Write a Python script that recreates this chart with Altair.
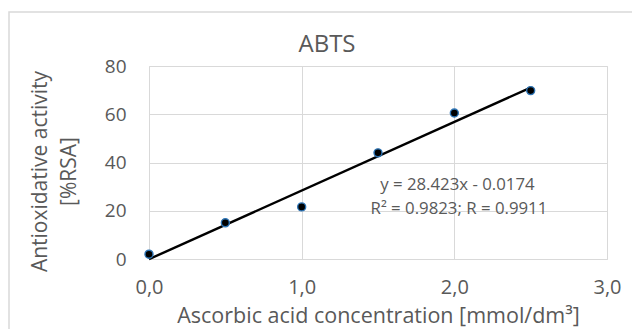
import altair as alt
import pandas as pd

# data
conc = [0.0, 0.5, 1.0, 1.5, 2.0, 2.5]
activity = [2.0, 15.0, 21.6, 44.0, 60.5, 69.8]
x_ticks = [0, 1, 2, 3]
y_ticks = [0, 20, 40, 60, 80]
title_text = "ABTS"
eq_line1 = "y = 28.423x - 0.0174"
eq_line2 = "R² = 0.9823; R = 0.9911"

df = pd.DataFrame({"x": conc, "y": activity})
one = alt.Data(values=[{"k": 1}])

FONT = "Open Sans"
GRAY = "#595959"
GRID = "#d9d9d9"

xs = alt.Scale(domain=[0, 3], nice=False, zero=False)
ys = alt.Scale(domain=[0, 80], nice=False)

x_enc = alt.X("x:Q", scale=xs, axis=alt.Axis(
    values=x_ticks, title="Ascorbic acid concentration [mmol/dm³]",
    labelExpr="replace(format(datum.value, '.1f'), '.', ',')",
    grid=True, gridColor=GRID, gridWidth=1, domain=False, ticks=False, tickSize=0,
    labelFlush=False,
    labelFont=FONT, labelFontSize=20, labelFontWeight="normal", labelColor=GRAY,
    labelPadding=18,
    titleFont=FONT, titleFontSize=21.5, titleFontWeight="normal", titleColor=GRAY,
    titleBaseline="alphabetic", titleY=63,
))
y_enc = alt.Y("y:Q", scale=ys, axis=alt.Axis(
    values=y_ticks, title=["Antioxidative activity", "[%RSA]"],
    grid=True, gridColor=GRID, gridWidth=1, domain=False, ticks=False, tickSize=0,
    labelFlush=False,
    labelFont=FONT, labelFontSize=19, labelFontWeight="normal", labelColor=GRAY,
    labelPadding=23,
    titleFont=FONT, titleFontSize=21, titleFontWeight="normal", titleColor=GRAY,
    titleAngle=-90, titleAlign="center", titleBaseline="alphabetic",
    titleX=-103, titleY=105, titleLineHeight=29,
))

base = alt.Chart(df)
single = alt.Chart(one)

frame = single.mark_rect(fill=None, stroke=GRID, strokeWidth=1.5).encode(
    x=alt.value(-140), x2=alt.value(520), y=alt.value(-54), y2=alt.value(320)
)

fit = base.transform_regression("x", "y", extent=[0, 2.5]).mark_line(
    color="black", strokeWidth=2.4
).encode(x=x_enc, y=y_enc)

pts = base.mark_point(filled=True, fill="black", stroke="#2e75b6",
                      strokeWidth=1.4, opacity=1, size=64).encode(x=x_enc, y=y_enc)

title = single.mark_text(font=FONT, fontSize=24, fontWeight="normal", color=GRAY,
                         baseline="middle", align="center").encode(
    x=alt.value(178), y=alt.value(-21), text=alt.value(title_text)
)

eq1 = single.mark_text(font=FONT, fontSize=16.8, fontWeight="normal", color=GRAY,
                       baseline="middle", align="center").encode(
    x=alt.datum(2.02, scale=xs), y=alt.datum(30.6, scale=ys), text=alt.value(eq_line1)
)
eq2 = single.mark_text(font=FONT, fontSize=16.8, fontWeight="normal", color=GRAY,
                       baseline="middle", align="center").encode(
    x=alt.datum(2.03, scale=xs), y=alt.datum(20.7, scale=ys), text=alt.value(eq_line2)
)

chart = alt.layer(frame, fit, pts, title, eq1, eq2).properties(
    width=458, height=193,
    autosize=alt.AutoSizeParams(type="none"),
    padding={"left": 149, "top": 66, "right": 25, "bottom": 70},
).configure_view(stroke=None).configure(background="white")

chart.save("out.html", embed_options={"renderer": "svg", "actions": False})
